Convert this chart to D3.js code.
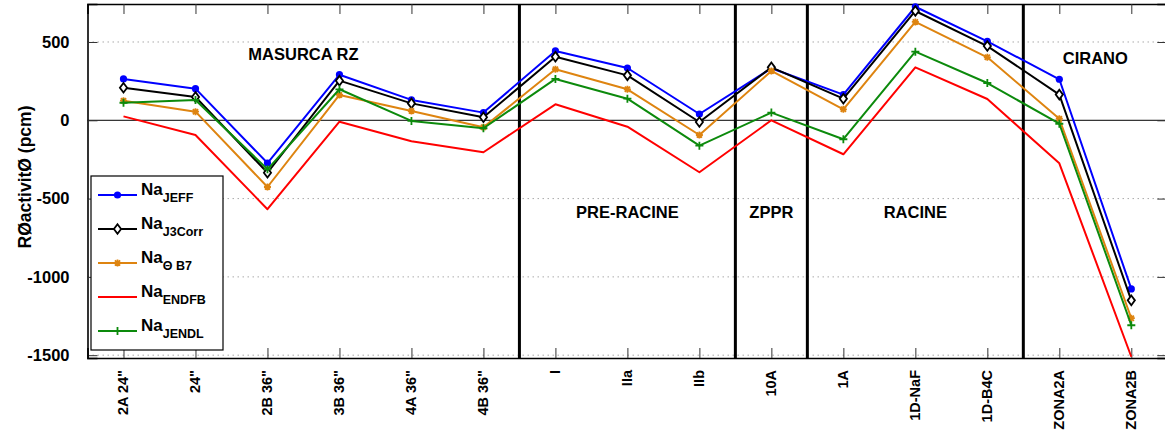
<!DOCTYPE html>
<html>
<head>
<meta charset="utf-8">
<script src="https://cdn.jsdelivr.net/npm/d3@7"></script>
<style>
  html, body { margin: 0; padding: 0; background: #fff; }
  svg { display: block; font-family: "Liberation Sans", Arial, sans-serif; }
</style>
</head>
<body>
<svg id="chart" width="1165" height="435"></svg>
<script>
// ---- data ----
const categories = ['2A 24"', '24"', '2B 36"', '3B 36"', '4A 36"', '4B 36"', 'I', 'IIa', 'IIb', '10A', '1A', '1D-NaF', '1D-B4C', 'ZONA2A', 'ZONA2B'];
const naJEFF   = [264, 202, -273, 291, 130, 49, 443, 334, 40, 332, 164, 725, 504, 262, -1077];
const naJ3Corr = [208, 149, -335, 253, 108, 19, 406, 287, -11, 338, 138, 698, 474, 164, -1150];
const naThB7   = [125, 55, -426, 162, 59, -45, 326, 198, -94, 315, 70, 628, 402, 10, -1264];
const naENDFB  = [25, -94, -568, -9, -134, -204, 102, -41, -332, 0, -217, 338, 136, -275, -1510];
const naJENDL  = [112, 130, -313, 198, -4, -51, 264, 138, -162, 49, -121, 438, 238, -22, -1309];
const yTicks = [500, 0, -500, -1000, -1500];
const yTickLabels = ["500", "0", "-500", "-1000", "-1500"];
const separators = [5.5, 8.5, 9.5, 12.5];
const groupLabels = [
  { text: "MASURCA RZ", at: 2.5, value: 424 },
  { text: "PRE-RACINE", at: 7.0, value: -588 },
  { text: "ZPPR", at: 9.0, value: -588 },
  { text: "RACINE", at: 11.0, value: -588 },
  { text: "CIRANO", at: 13.5, value: 396 }
];
const seriesDefs = [
  { name: "Na", sub: "JEFF", values: naJEFF, color: "#0000ff", marker: "circle" },
  { name: "Na", sub: "J3Corr", values: naJ3Corr, color: "#000000", marker: "diamond" },
  { name: "Na", sub: "\u0398 B7", values: naThB7, color: "#de8410", marker: "asterisk" },
  { name: "Na", sub: "ENDFB", values: naENDFB, color: "#ff0000", marker: "none" },
  { name: "Na", sub: "JENDL", values: naJENDL, color: "#0c8a0c", marker: "plus" }
];

// ---- layout ----
const svg = d3.select("#chart");
const L = 87.5, T = 4, B = 358, R = 1167.3;
const x = d3.scaleLinear().domain([-0.5, 14.5]).range([L, R]);
const y = d3.scaleLinear().domain([-1518, 742.6]).range([B, T]);

// grid
svg.append("g").selectAll("line").data(yTicks.filter(v => v !== 0)).join("line")
  .attr("x1", L).attr("x2", R).attr("y1", d => y(d)).attr("y2", d => y(d))
  .attr("stroke", "#aaa").attr("stroke-width", 1).attr("stroke-dasharray", "1.5,3.5");
// zero line
svg.append("line").attr("x1", L).attr("x2", R).attr("y1", y(0)).attr("y2", y(0))
  .attr("stroke", "#000").attr("stroke-width", 1);

// axes
const axisLeft = d3.axisLeft(y).tickValues(yTicks).tickSize(-10).tickPadding(18)
  .tickFormat((d, i) => yTickLabels[i]);
const gL = svg.append("g").attr("transform", `translate(${L},0)`).call(axisLeft);
const axisRight = d3.axisRight(y).tickValues(yTicks).tickSize(-10).tickFormat("");
const gR = svg.append("g").attr("transform", `translate(${R},0)`).call(axisRight);
const xIdx = d3.range(categories.length);
const axisBottom = d3.axisBottom(x).tickValues(xIdx).tickSize(-10).tickFormat("");
const gB = svg.append("g").attr("transform", `translate(0,${B})`).call(axisBottom);
const axisTop = d3.axisTop(x).tickValues(xIdx).tickSize(-10).tickFormat("");
const gT = svg.append("g").attr("transform", `translate(0,${T})`).call(axisTop);
[gL, gR, gB, gT].forEach(g => {
  g.select(".domain").attr("stroke", "#000").attr("stroke-width", 1.6);
  g.selectAll(".tick line").attr("stroke", "#333").attr("stroke-width", 1);
});
gL.selectAll(".tick text").attr("font-size", 16.5).attr("font-weight", "bold").attr("fill", "#000")
  .attr("font-family", "'Liberation Sans', Arial, sans-serif");

// x tick labels rotated
svg.append("g").selectAll("text").data(categories).join("text")
  .attr("transform", (d, i) => `translate(${x(i)},${B + 12}) rotate(-90)`)
  .attr("text-anchor", "end").attr("dominant-baseline", "central")
  .attr("font-size", 14.5).attr("font-weight", "bold").attr("fill", "#000")
  .text(d => d);

// y axis title
svg.append("text").attr("transform", `translate(25,${(T + B) / 2 - 4}) rotate(-90)`)
  .attr("text-anchor", "middle").attr("dominant-baseline", "central")
  .attr("font-size", 17.5).attr("font-weight", "bold").text("R\u00D8activit\u00D8 (pcm)");

// separators
svg.append("g").selectAll("line").data(separators).join("line")
  .attr("x1", d => x(d)).attr("x2", d => x(d)).attr("y1", T).attr("y2", B)
  .attr("stroke", "#000").attr("stroke-width", 3);

// group labels
svg.append("g").selectAll("text").data(groupLabels).join("text")
  .attr("x", d => x(d.at)).attr("y", d => y(d.value))
  .attr("text-anchor", "middle").attr("dominant-baseline", "central")
  .attr("font-size", 16.5).attr("font-weight", "bold").text(d => d.text);

// lines and markers
const line = d3.line().x((d, i) => x(i)).y(d => y(d));
const markerPath = {
  diamond: "M0,-4.8L3.6,0L0,4.8L-3.6,0Z",
  asterisk: "M-3.5,0H3.5M-2.6,-2.6L2.6,2.6M-2.6,2.6L2.6,-2.6M0,-3.5V3.5",
  plus: "M-4,0H4M0,-4V4"
};
function drawMarker(g, type, color, cx, cy) {
  if (type === "none") return;
  if (type === "circle") {
    g.append("circle").attr("cx", cx).attr("cy", cy).attr("r", 3.6).attr("fill", color);
  } else if (type === "diamond") {
    g.append("path").attr("transform", `translate(${cx},${cy})`).attr("d", markerPath.diamond)
      .attr("fill", "#fff").attr("stroke", color).attr("stroke-width", 1.8);
  } else {
    g.append("path").attr("transform", `translate(${cx},${cy})`).attr("d", markerPath[type])
      .attr("fill", "none").attr("stroke", color).attr("stroke-width", 1.8);
  }
}
const plot = svg.append("g");
seriesDefs.forEach(s => {
  const g = plot.append("g");
  g.append("path").datum(s.values).attr("d", line)
    .attr("fill", "none").attr("stroke", s.color).attr("stroke-width", 2)
    .attr("stroke-linejoin", "round");
  s.values.forEach((v, i) => drawMarker(g, s.marker, s.color, x(i), y(v)));
});

// legend
const leg = svg.append("g");
leg.append("rect").attr("x", 91).attr("y", 176).attr("width", 132).attr("height", 174)
  .attr("fill", "#fff").attr("stroke", "#000").attr("stroke-width", 1.2);
seriesDefs.forEach((s, i) => {
  const ry = 195 + 34 * i;
  leg.append("line").attr("x1", 98).attr("x2", 137).attr("y1", ry).attr("y2", ry)
    .attr("stroke", s.color).attr("stroke-width", 2);
  drawMarker(leg, s.marker, s.color, 117.5, ry);
  const t = leg.append("text").attr("x", 141).attr("y", ry).attr("font-weight", "bold");
  t.append("tspan").attr("font-size", 17).text(s.name);
  t.append("tspan").attr("font-size", 12.5).attr("dy", 7).text(s.sub);
});
</script>
</body>
</html>
